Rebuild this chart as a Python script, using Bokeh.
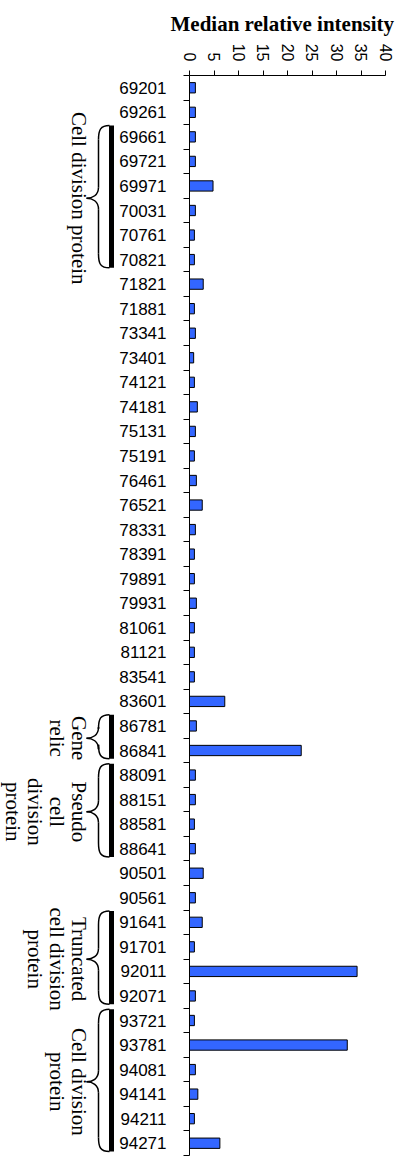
import math
from bokeh.plotting import figure
from bokeh.models import Range1d, FixedTicker
from bokeh.layouts import row
from bokeh.embed import file_html
from bokeh.resources import INLINE
from bokeh.core.properties import value

# ---------------- data ----------------
ids = ["69201", "69261", "69661", "69721", "69971", "70031", "70761", "70821",
       "71821", "71881", "73341", "73401", "74121", "74181", "75131", "75191",
       "76461", "76521", "78331", "78391", "79891", "79931", "81061", "81121",
       "83541", "83601", "86781", "86841", "88091", "88151", "88581", "88641",
       "90501", "90561", "91641", "91701", "92011", "92071", "93721", "93781",
       "94081", "94141", "94211", "94271"]
intensity = [1.2, 1.2, 1.2, 1.2, 4.8, 1.2, 1.0, 1.0,
             2.8, 1.0, 1.2, 0.85, 1.0, 1.6, 1.2, 1.0,
             1.4, 2.6, 1.2, 1.0, 1.0, 1.4, 1.0, 1.0,
             1.0, 7.2, 1.4, 22.8, 1.2, 1.2, 1.0, 1.2,
             2.8, 1.2, 2.6, 1.0, 34.2, 1.2, 1.0, 32.2,
             1.2, 1.7, 1.0, 6.2]
x_ticks = [0, 5, 10, 15, 20, 25, 30, 35, 40]
title_text = "Median relative intensity"

group_lines = [["Cell division protein"],
               ["Gene", "relic"],
               ["Pseudo", "cell", "division", "protein"],
               ["Truncated", "cell division", "protein"],
               ["Cell division", "protein"]]
group_first = ["69661", "86781", "88091", "91641", "93721"]
group_last = ["70821", "86841", "88641", "92071", "94271"]

# ---------------- layout ----------------
TOTAL_W = 395
H = 1157
TOP = 75
BOTTOM = 2
LEFT_W = 116
AX_W = 67
RIGHT_B = 10
n = len(ids)
ppr = (H - TOP - BOTTOM) / n  # pixels per row

y_rng = Range1d(start=n - 0.5, end=-0.5)
idx = list(range(n))

# ---------------- main chart ----------------
p = figure(width=TOTAL_W - LEFT_W, height=H, y_range=y_rng,
           x_range=Range1d(0, 40), x_axis_location="above",
           output_backend="svg", toolbar_location=None,
           min_border_top=TOP, min_border_bottom=BOTTOM,
           min_border_left=AX_W, min_border_right=RIGHT_B)
p.outline_line_color = None
p.xgrid.visible = False
p.ygrid.visible = False
p.background_fill_color = "white"
p.border_fill_color = "white"

p.title.text = title_text
p.title.text_font = "Liberation Serif"
p.title.text_font_style = "bold"
p.title.text_font_size = "21px"
p.title.align = "left"
p.title.offset = -19
p.title.text_color = "black"

xa = p.xaxis[0]
xa.ticker = FixedTicker(ticks=x_ticks)
xa.bounds = (0, 40)
xa.major_label_orientation = -math.pi / 2
xa.major_tick_out = 5
xa.major_tick_in = 0
xa.minor_tick_out = 0
xa.minor_tick_in = 0
xa.major_label_standoff = 9
xa.major_label_text_font = "Liberation Sans"
xa.major_label_text_font_size = "16px"
xa.major_label_text_color = "black"
xa.axis_line_color = "black"
xa.major_tick_line_color = "black"

ya = p.yaxis[0]
ya.ticker = FixedTicker(ticks=idx, minor_ticks=[i - 0.5 for i in range(n + 1)])
ya.major_label_overrides = {i: ids[i] for i in idx}
ya.major_tick_out = 0
ya.major_tick_in = 0
ya.minor_tick_out = 6
ya.minor_tick_in = 0
ya.major_label_standoff = 17
ya.major_label_text_font = "Liberation Sans"
ya.major_label_text_font_size = "17px"
ya.major_label_text_color = "black"
ya.axis_line_color = "black"
ya.minor_tick_line_color = "black"

p.hbar(y=idx, left=0, right=intensity, height=0.42,
       fill_color="#3366FF", line_color="black", line_width=1)

# ---------------- brace panel ----------------
q = figure(width=LEFT_W, height=H, y_range=y_rng,
           x_range=Range1d(8, 8 + LEFT_W),
           x_axis_type=None, y_axis_type=None,
           output_backend="svg", toolbar_location=None,
           min_border_top=TOP, min_border_bottom=BOTTOM,
           min_border_left=0, min_border_right=0)
q.outline_line_color = None
q.xgrid.visible = False
q.ygrid.visible = False

def r(px):
    return px / ppr

XV, XT, XE = 106, 94, 117
bz = dict(x0=[], y0=[], x1=[], y1=[], cx0=[], cy0=[], cx1=[], cy1=[])
seg = dict(x0=[], y0=[], x1=[], y1=[])
bars = dict(top=[], bottom=[])
tx, ty, tt = [], [], []

def add_bz(a, b, c0, c1):
    bz["x0"].append(a[0]); bz["y0"].append(a[1])
    bz["x1"].append(b[0]); bz["y1"].append(b[1])
    bz["cx0"].append(c0[0]); bz["cy0"].append(c0[1])
    bz["cx1"].append(c1[0]); bz["cy1"].append(c1[1])

for lines, f, l in zip(group_lines, group_first, group_last):
    fi, li = ids.index(f), ids.index(l)
    t = fi - 0.5 + r(1)
    b = li + 0.5 - r(4)
    m = (fi + li) / 2
    bars["top"].append(t); bars["bottom"].append(b)
    add_bz((XE, t), (XV, t + r(14)), (XV + 2, t), (XV, t + r(4)))
    seg["x0"].append(XV); seg["y0"].append(t + r(14))
    seg["x1"].append(XV); seg["y1"].append(m - r(11))
    add_bz((XV, m - r(11)), (XT, m), (XV, m - r(3)), (XT + 6, m))
    add_bz((XT, m), (XV, m + r(11)), (XT + 6, m), (XV, m + r(3)))
    seg["x0"].append(XV); seg["y0"].append(m + r(11))
    seg["x1"].append(XV); seg["y1"].append(b - r(14))
    add_bz((XV, b - r(14)), (XE, b), (XV, b - r(4)), (XV + 2, b))
    for j, s in enumerate(lines):
        tx.append(86 - 22 * j)
        ty.append(m)
        tt.append(s)

q.bezier(line_color="black", line_width=1.5, **bz)
q.segment(line_color="black", line_width=1.5, **seg)
q.quad(left=XE - 0.5, right=XE + 4.5, top=bars["top"], bottom=bars["bottom"],
       fill_color="black", line_color=None)
q.text(x=tx, y=ty, text=tt, angle=-math.pi / 2,
       text_font=value("Liberation Serif"), text_font_size="21px",
       text_align="center", text_baseline="middle", text_color="black")

layout = row(q, p, spacing=0)
open("out.html", "w").write(file_html(layout, INLINE))
